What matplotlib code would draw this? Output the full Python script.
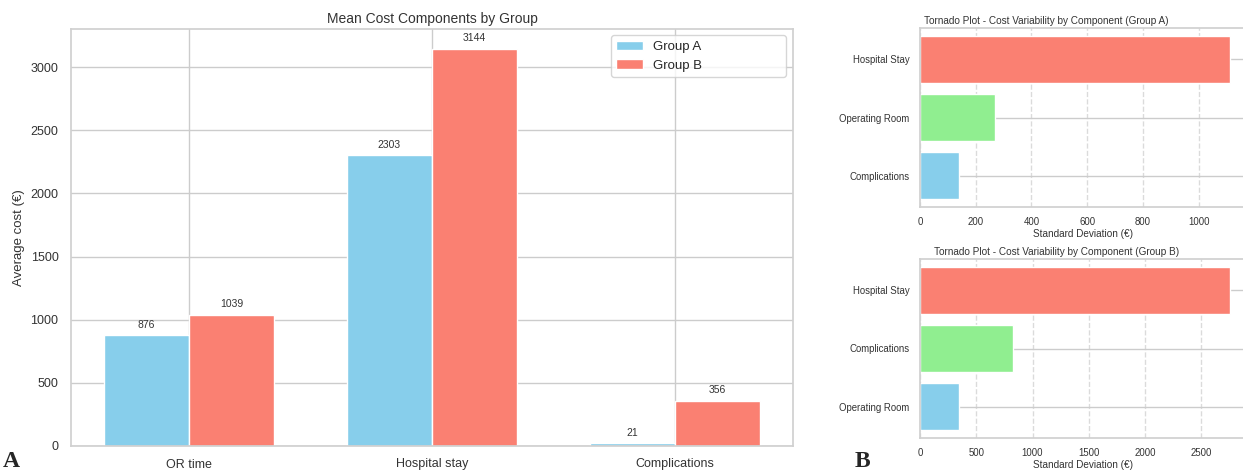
import matplotlib
matplotlib.use("Agg")
import matplotlib.pyplot as plt
import seaborn as sns
import numpy as np

sns.set_theme(style="whitegrid")
plt.rcParams['font.family'] = ['Liberation Sans', 'DejaVu Sans']

# Panel A data
categories = ["OR time", "Hospital stay", "Complications"]
group_a = [876, 2303, 21]
group_b = [1039, 3144, 356]

# Panel B data (tornado)
tornado_a_labels = ["Complications", "Operating Room", "Hospital Stay"]
tornado_a_values = [140, 268, 1114]
tornado_b_labels = ["Operating Room", "Complications", "Hospital Stay"]
tornado_b_values = [351, 823, 2759]
tornado_colors = ["skyblue", "lightgreen", "salmon"]

W, H = 1243, 474
fig = plt.figure(figsize=(W / 100, H / 100), dpi=100)

def rect(l, t, r, b):
    return [l / W, 1 - b / H, (r - l) / W, (b - t) / H]

ax = fig.add_axes(rect(71, 29, 793, 446))
x = np.arange(len(categories))
w = 0.35
ba = ax.bar(x - w / 2, group_a, w, color="skyblue", label="Group A")
bb = ax.bar(x + w / 2, group_b, w, color="salmon", label="Group B")
for bars in (ba, bb):
    for r in bars:
        ax.annotate(f"{r.get_height():.0f}", (r.get_x() + r.get_width() / 2, r.get_height()),
                    xytext=(0, 4), textcoords="offset points", ha="center", va="bottom",
                    fontsize=7.5, color="#333333")
ax.set_xticks(x)
ax.set_xticklabels(categories)
ax.set_ylabel("Average cost (€)", fontsize=9.5, color="#333333")
ax.set_title("Mean Cost Components by Group", fontsize=10, color="#333333", pad=4)
ax.tick_params(labelsize=9, colors="#333333", pad=3)
ax.legend(loc="upper left", bbox_to_anchor=(0.748, 0.985, 0.242, 0), mode="expand",
          fontsize=9.5, frameon=True, borderaxespad=0)
for s in ax.spines.values():
    s.set_color("#d0d0d0")

def tornado(axx, labels, values, title, tx):
    axx.barh(labels, values, color=tornado_colors)
    axx.set_title(title, fontsize=7.2, color="#333333", pad=3, x=tx)
    axx.set_xlabel("Standard Deviation (€)", fontsize=7.2, color="#333333", labelpad=1)
    axx.tick_params(labelsize=6.9, colors="#333333", pad=1.5)
    axx.grid(axis="x", linestyle="--", alpha=0.7)
    for s in axx.spines.values():
        s.set_color("#d0d0d0")

ax1 = fig.add_axes(rect(920, 28, 1246, 207))
tornado(ax1, tornado_a_labels, tornado_a_values,
        "Tornado Plot - Cost Variability by Component (Group A)", 0.387)
ax2 = fig.add_axes(rect(920, 259, 1246, 438))
tornado(ax2, tornado_b_labels, tornado_b_values,
        "Tornado Plot - Cost Variability by Component (Group B)", 0.42)

fig.text(3 / W, 1 - 472 / H, "A", fontsize=17, fontweight="bold", family="Liberation Serif", va="bottom")
fig.text(855 / W, 1 - 472 / H, "B", fontsize=17, fontweight="bold", family="Liberation Serif", va="bottom")

fig.savefig("out.png", dpi=100)
